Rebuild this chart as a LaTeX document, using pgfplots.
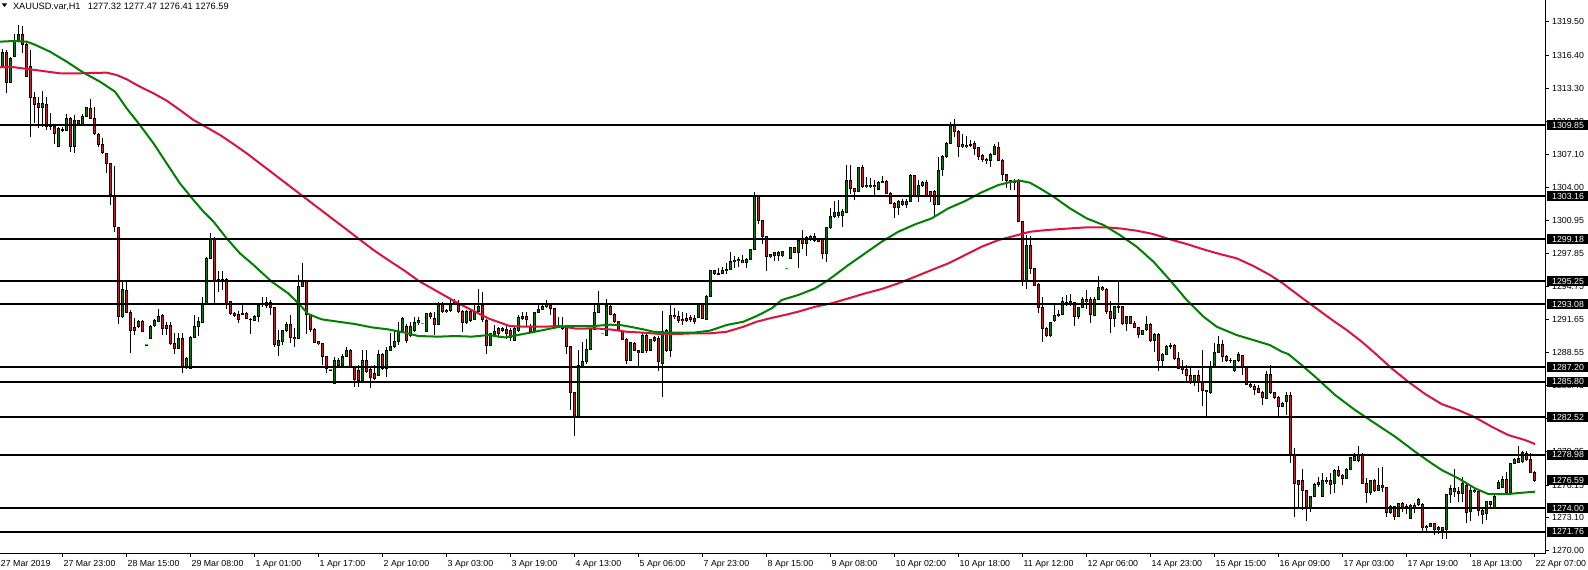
\documentclass[border=0pt]{standalone}
\usepackage{fontspec}
\setmainfont{Liberation Sans}
\usepackage{pgfplots}
\usepackage{pgfplotstable}
\pgfplotsset{compat=1.18}
\definecolor{bull}{RGB}{0,128,0}
\definecolor{bear}{RGB}{200,30,40}
\definecolor{magreen}{RGB}{0,128,0}
\definecolor{mared}{RGB}{220,20,60}
\definecolor{flatc}{RGB}{0,230,0}
\newcommand\lbl{\fontsize{4.4}{5}\selectfont}

\pgfplotstableread{
j O H L C
0 1315.31 1316.93 1315.16 1316.65
1 1316.65 1316.87 1312.82 1313.85
2 1313.81 1316.25 1313.75 1316.09
3 1316.25 1318.37 1316.19 1317.81
4 1317.81 1319.21 1317.75 1318.28
5 1318.28 1319.12 1316.62 1317.34
6 1317.34 1317.50 1314.32 1314.38
7 1315.31 1316.87 1308.70 1312.41
8 1312.41 1312.97 1310.07 1311.79
9 1311.88 1312.50 1309.54 1311.51
10 1311.51 1313.07 1309.63 1311.88
11 1311.82 1312.44 1309.38 1309.76
12 1309.76 1310.94 1309.38 1309.70
13 1309.76 1309.85 1308.08 1309.07
14 1307.89 1309.70 1307.83 1309.54
15 1309.45 1309.63 1309.23 1309.38
16 1309.38 1310.88 1309.32 1310.48
17 1310.48 1310.63 1307.36 1307.83
18 1307.83 1310.79 1307.20 1310.26
19 1310.26 1310.38 1309.85 1310.01
20 1309.92 1310.85 1309.85 1310.69
21 1310.63 1311.51 1310.57 1311.44
22 1311.44 1312.29 1310.41 1310.48
23 1310.48 1311.51 1308.92 1309.07
24 1308.98 1309.07 1307.76 1308.04
25 1308.08 1308.61 1307.11 1307.26
26 1307.20 1307.26 1305.33 1306.26
27 1306.26 1306.33 1302.36 1303.30
28 1303.21 1306.05 1299.87 1300.34
29 1300.27 1300.34 1291.23 1291.91
30 1291.91 1295.19 1291.76 1294.47
31 1294.41 1295.19 1292.22 1292.32
32 1292.32 1292.54 1288.48 1290.60
33 1290.91 1291.76 1290.20 1290.60
34 1290.98 1291.60 1290.91 1291.51
35 1291.51 1291.60 1290.45 1290.51
36 1289.26 1289.26 1289.26 1289.26
37 1289.89 1291.13 1289.82 1291.04
38 1291.04 1291.67 1290.98 1291.51
39 1291.45 1292.63 1291.38 1291.91
40 1291.98 1292.16 1290.20 1290.82
41 1291.13 1291.45 1290.20 1290.82
42 1291.13 1291.45 1289.26 1289.36
43 1289.36 1290.35 1288.42 1288.95
44 1288.95 1290.35 1288.86 1289.89
45 1289.89 1290.42 1286.67 1287.23
46 1287.23 1288.11 1286.98 1288.01
47 1287.08 1290.11 1286.98 1289.98
48 1289.98 1292.07 1289.89 1290.98
49 1290.98 1291.91 1290.14 1291.45
50 1291.38 1293.78 1291.29 1293.16
51 1293.16 1297.47 1293.10 1297.37
52 1297.37 1299.71 1297.28 1299.24
53 1299.24 1299.40 1293.16 1295.34
54 1295.40 1296.22 1294.25 1295.34
55 1295.40 1296.22 1294.41 1295.37
56 1295.40 1295.50 1292.69 1293.16
57 1293.32 1293.40 1292.07 1292.22
58 1292.22 1292.38 1291.91 1292.07
59 1292.16 1292.47 1291.29 1291.67
60 1292.22 1293.23 1292.07 1292.16
61 1292.22 1292.38 1291.67 1291.76
62 1291.70 1291.76 1290.26 1291.67
63 1291.60 1292.07 1291.54 1291.98
64 1291.98 1293.23 1291.45 1293.01
65 1293.16 1293.78 1292.85 1293.10
66 1293.00 1293.78 1292.69 1293.22
67 1293.22 1293.47 1292.07 1292.78
68 1292.78 1292.85 1289.10 1289.26
69 1289.20 1290.66 1288.23 1289.66
70 1289.57 1290.66 1289.26 1290.60
71 1290.66 1291.44 1290.51 1291.22
72 1291.22 1292.07 1289.48 1289.98
73 1289.98 1290.82 1289.10 1289.88
74 1289.88 1295.81 1289.79 1294.78
75 1294.78 1296.90 1294.72 1295.19
76 1295.19 1295.34 1290.35 1292.16
77 1292.16 1292.16 1290.51 1290.72
78 1290.72 1290.82 1289.42 1289.48
79 1289.57 1289.66 1289.26 1289.42
80 1289.42 1289.42 1287.39 1288.17
81 1288.17 1288.23 1286.67 1287.07
82 1286.92 1286.92 1286.92 1286.92
83 1285.67 1288.17 1285.67 1287.85
84 1287.39 1288.01 1287.23 1287.85
85 1287.39 1288.42 1287.23 1288.17
86 1288.17 1289.04 1288.10 1288.79
87 1288.79 1288.85 1287.17 1287.23
88 1287.23 1287.29 1285.36 1286.04
89 1286.90 1287.39 1285.36 1285.98
90 1285.98 1288.79 1285.83 1287.85
91 1287.85 1288.79 1286.67 1286.76
92 1286.92 1287.07 1285.20 1286.20
93 1286.61 1287.39 1285.98 1286.14
94 1286.45 1288.79 1286.36 1288.42
95 1288.42 1288.48 1286.92 1287.07
96 1287.07 1289.10 1286.29 1288.79
97 1288.79 1290.35 1288.73 1289.16
98 1289.10 1290.66 1288.95 1289.63
99 1289.57 1291.44 1289.26 1290.51
100 1290.51 1291.91 1290.35 1291.75
101 1291.00 1291.22 1289.42 1289.73
102 1290.19 1291.44 1289.98 1290.97
103 1290.66 1291.91 1290.51 1291.35
104 1291.35 1291.91 1291.13 1291.54
105 1291.29 1291.29 1291.29 1291.29
106 1290.57 1292.28 1290.51 1292.22
107 1292.22 1292.38 1291.75 1291.97
108 1291.75 1292.38 1290.19 1291.22
109 1291.22 1293.31 1291.13 1293.16
110 1293.16 1293.31 1292.22 1292.38
111 1292.38 1292.60 1292.28 1292.53
112 1292.47 1293.63 1292.38 1293.10
113 1293.31 1293.53 1293.00 1293.10
114 1293.10 1293.47 1292.28 1292.38
115 1292.38 1292.53 1290.51 1291.35
116 1291.35 1292.53 1291.22 1292.38
117 1292.38 1292.69 1291.44 1291.60
118 1291.66 1293.00 1291.60 1292.38
119 1292.38 1294.47 1292.28 1292.91
120 1293.00 1294.25 1291.44 1291.60
121 1291.60 1291.66 1288.42 1289.26
122 1289.26 1290.41 1289.20 1290.35
123 1290.19 1291.13 1290.10 1290.51
124 1290.82 1290.91 1289.88 1290.35
125 1290.66 1290.97 1290.51 1290.82
126 1290.72 1291.13 1289.79 1290.35
127 1290.60 1290.82 1289.66 1290.00
128 1289.72 1290.97 1289.66 1290.82
129 1290.66 1292.06 1290.50 1291.85
130 1291.97 1292.38 1291.60 1291.75
131 1291.91 1292.38 1290.97 1291.66
132 1290.97 1291.28 1290.41 1290.50
133 1290.50 1292.38 1290.41 1292.28
134 1292.28 1293.00 1292.22 1292.59
135 1292.59 1293.09 1292.53 1292.91
136 1292.84 1293.47 1292.75 1293.09
137 1293.00 1293.09 1292.06 1292.69
138 1292.69 1292.69 1291.03 1291.13
139 1291.13 1291.91 1290.91 1290.97
140 1291.03 1291.85 1290.66 1290.82
141 1290.97 1291.13 1288.41 1289.10
142 1289.10 1289.16 1283.17 1284.79
143 1284.79 1284.79 1280.74 1282.55
144 1282.55 1288.79 1282.49 1287.38
145 1287.38 1289.57 1287.29 1287.70
146 1287.70 1289.79 1287.54 1288.85
147 1288.85 1290.82 1288.79 1290.75
148 1290.75 1293.09 1290.66 1292.31
149 1292.31 1294.34 1292.28 1293.09
150 1290.35 1290.35 1290.35 1290.35
151 1290.19 1293.62 1290.10 1292.91
152 1292.91 1293.00 1292.06 1292.13
153 1292.13 1292.28 1291.35 1291.44
154 1291.44 1291.53 1290.60 1290.66
155 1290.50 1290.60 1289.72 1289.79
156 1289.79 1289.88 1287.48 1287.79
157 1287.85 1289.47 1287.79 1289.47
158 1289.41 1289.54 1288.73 1288.79
159 1288.79 1288.79 1287.07 1288.54
160 1288.54 1290.50 1288.48 1290.19
161 1290.19 1290.29 1288.54 1288.73
162 1288.79 1289.88 1288.73 1289.79
163 1289.97 1290.10 1289.57 1289.72
164 1289.88 1290.10 1286.85 1287.70
165 1287.54 1292.44 1284.36 1290.50
166 1290.60 1290.72 1288.63 1288.73
167 1288.73 1293.00 1288.16 1292.06
168 1292.06 1292.69 1291.66 1291.91
169 1291.91 1292.44 1291.35 1291.53
170 1291.66 1292.38 1291.13 1291.53
171 1291.75 1292.22 1291.44 1291.60
172 1291.85 1292.06 1291.44 1291.66
173 1291.75 1292.06 1291.22 1291.44
174 1291.85 1293.16 1291.75 1293.09
175 1293.09 1293.22 1291.66 1291.75
176 1291.66 1293.94 1291.60 1293.84
177 1293.84 1296.28 1293.78 1296.21
178 1296.21 1296.28 1295.81 1295.96
179 1295.96 1296.43 1295.81 1295.93
180 1295.96 1296.53 1295.90 1296.28
181 1296.21 1296.90 1295.96 1296.34
182 1296.34 1298.00 1296.28 1297.06
183 1297.06 1297.59 1296.43 1297.21
184 1297.15 1297.52 1296.53 1297.27
185 1297.21 1297.68 1296.90 1296.96
186 1296.96 1297.37 1296.43 1297.31
187 1297.27 1298.30 1297.21 1298.21
188 1298.21 1303.61 1298.15 1303.20
189 1303.20 1303.30 1300.64 1300.89
190 1300.89 1300.96 1298.77 1299.46
191 1299.46 1299.46 1296.21 1297.52
192 1297.74 1297.80 1297.43 1297.52
193 1297.62 1297.99 1297.12 1297.93
194 1297.93 1298.05 1297.12 1297.68
195 1297.62 1298.05 1297.52 1297.99
196 1296.43 1296.43 1296.43 1296.43
197 1297.37 1298.43 1297.31 1298.37
198 1298.37 1298.46 1297.84 1297.93
199 1297.93 1299.30 1296.49 1299.08
200 1299.18 1300.02 1298.24 1298.77
201 1298.77 1299.49 1297.62 1299.30
202 1299.18 1299.61 1298.99 1299.46
203 1299.46 1299.71 1298.87 1299.08
204 1299.18 1299.30 1298.93 1298.99
205 1299.24 1299.30 1297.31 1297.84
206 1297.84 1300.30 1297.00 1300.24
207 1300.24 1302.11 1300.11 1301.27
208 1301.27 1302.73 1301.17 1301.67
209 1301.42 1302.83 1301.11 1301.64
210 1301.42 1301.99 1300.33 1301.74
211 1301.67 1306.10 1301.58 1304.70
212 1304.70 1306.10 1303.45 1303.92
213 1303.92 1303.98 1302.83 1303.67
214 1303.67 1305.95 1303.67 1305.85
215 1305.85 1306.10 1303.98 1304.08
216 1304.08 1305.01 1303.92 1304.23
217 1304.08 1304.92 1303.98 1304.23
218 1304.23 1304.70 1303.30 1304.08
219 1303.86 1304.61 1303.76 1304.48
220 1304.48 1305.11 1304.39 1304.61
221 1304.61 1304.70 1303.36 1303.45
222 1303.45 1303.55 1302.42 1302.52
223 1302.52 1302.61 1301.11 1302.11
224 1302.11 1302.83 1301.42 1302.67
225 1302.67 1302.92 1302.30 1302.42
226 1302.42 1302.89 1302.05 1302.73
227 1302.67 1305.23 1302.61 1305.11
228 1305.11 1305.17 1303.23 1303.30
229 1303.30 1304.70 1302.61 1304.23
230 1304.23 1304.61 1304.08 1304.48
231 1304.48 1304.70 1303.23 1303.30
232 1303.67 1303.67 1302.67 1303.30
233 1303.67 1303.76 1301.27 1302.42
234 1302.42 1306.88 1302.36 1305.64
235 1305.64 1307.10 1305.11 1306.88
236 1306.88 1308.23 1306.73 1308.13
237 1308.13 1310.10 1308.04 1309.85
238 1309.85 1310.47 1308.76 1309.22
239 1309.29 1309.38 1306.88 1307.82
240 1307.82 1308.97 1307.73 1308.04
241 1307.98 1308.85 1307.73 1307.88
242 1307.98 1308.44 1307.82 1308.04
243 1308.13 1308.35 1307.04 1307.66
244 1307.73 1307.73 1306.57 1306.88
245 1306.98 1307.10 1306.35 1306.67
246 1306.67 1306.79 1306.17 1306.57
247 1306.57 1307.20 1305.95 1307.10
248 1307.10 1308.04 1307.04 1307.82
249 1307.73 1308.23 1306.48 1306.57
250 1306.57 1306.67 1304.61 1305.23
251 1305.23 1305.32 1303.92 1304.70
252 1304.70 1304.70 1303.76 1304.54
253 1304.61 1304.79 1303.76 1304.48
254 1304.70 1304.79 1300.74 1300.80
255 1300.80 1300.89 1294.78 1295.34
256 1295.34 1299.55 1294.56 1298.61
257 1298.61 1299.46 1295.96 1296.43
258 1296.43 1296.52 1294.78 1294.87
259 1294.96 1295.09 1292.28 1292.78
260 1292.78 1293.78 1289.57 1290.81
261 1290.81 1290.97 1290.03 1290.13
262 1290.13 1291.44 1290.03 1291.34
263 1291.53 1293.00 1291.44 1292.06
264 1292.06 1292.53 1291.91 1292.16
265 1292.16 1293.78 1292.06 1293.31
266 1293.15 1293.93 1292.90 1293.22
267 1293.15 1294.03 1292.90 1293.31
268 1293.22 1293.31 1291.03 1291.97
269 1291.91 1292.84 1291.75 1292.78
270 1292.78 1293.72 1292.69 1293.53
271 1293.53 1294.40 1292.69 1293.31
272 1293.53 1293.72 1291.34 1292.16
273 1292.06 1293.78 1291.97 1293.53
274 1293.53 1295.71 1293.47 1294.65
275 1294.65 1294.78 1294.34 1294.46
276 1294.46 1294.56 1292.16 1292.37
277 1292.37 1293.40 1290.41 1291.75
278 1291.75 1292.90 1290.91 1292.84
279 1292.84 1295.18 1292.22 1292.81
280 1292.84 1292.90 1291.13 1291.28
281 1291.28 1291.97 1290.60 1291.91
282 1291.97 1291.97 1291.22 1291.28
283 1291.28 1291.53 1290.81 1290.91
284 1290.91 1290.97 1289.88 1290.28
285 1290.28 1290.66 1290.19 1290.60
286 1290.72 1291.97 1290.60 1291.22
287 1291.22 1291.28 1289.57 1289.66
288 1289.72 1290.35 1288.63 1290.28
289 1290.28 1290.35 1286.85 1287.85
290 1287.85 1288.54 1287.29 1288.41
291 1288.41 1289.25 1288.32 1289.16
292 1289.25 1289.47 1288.85 1289.16
293 1289.25 1289.35 1287.91 1288.01
294 1288.01 1288.63 1286.98 1287.07
295 1287.16 1287.85 1286.54 1286.98
296 1286.98 1287.38 1285.82 1286.45
297 1286.45 1287.16 1285.60 1285.73
298 1285.73 1286.45 1285.42 1286.45
299 1286.45 1286.91 1284.89 1285.73
300 1285.73 1288.79 1283.54 1284.98
301 1284.89 1285.10 1282.55 1285.04
302 1284.79 1287.76 1284.67 1287.16
303 1287.16 1289.41 1287.07 1288.54
304 1288.54 1290.10 1288.47 1289.35
305 1289.35 1289.72 1287.69 1288.16
306 1288.16 1288.32 1287.69 1287.79
307 1287.85 1288.01 1287.54 1287.79
308 1286.85 1287.91 1286.76 1287.85
309 1287.79 1288.63 1287.69 1288.32
310 1288.32 1288.32 1286.45 1287.16
311 1287.16 1287.23 1285.51 1285.60
312 1285.60 1285.73 1285.29 1285.35
313 1285.35 1285.60 1284.57 1285.10
314 1285.20 1285.51 1284.73 1284.79
315 1284.79 1284.98 1283.64 1284.36
316 1284.26 1286.85 1284.17 1286.54
317 1286.54 1287.38 1284.67 1284.79
318 1284.79 1284.89 1284.26 1284.36
319 1284.36 1284.48 1282.39 1283.48
320 1283.55 1283.95 1283.42 1283.80
321 1283.95 1284.89 1282.70 1284.58
322 1284.58 1284.89 1278.24 1279.05
323 1279.05 1279.58 1273.19 1276.25
324 1276.62 1276.68 1273.97 1276.25
325 1276.62 1277.62 1273.81 1275.68
326 1275.68 1275.68 1272.81 1274.06
327 1274.06 1275.12 1273.66 1275.06
328 1275.06 1276.37 1275.00 1276.25
329 1276.25 1276.93 1276.00 1276.37
330 1275.06 1277.31 1275.00 1276.62
331 1276.46 1276.93 1276.25 1276.62
332 1276.62 1277.31 1275.31 1276.25
333 1276.31 1277.62 1275.37 1277.56
334 1277.56 1277.93 1276.93 1277.09
335 1277.09 1277.18 1276.15 1276.78
336 1276.78 1277.71 1276.68 1277.62
337 1277.62 1278.80 1277.56 1278.74
338 1278.80 1279.18 1278.43 1278.49
339 1278.43 1279.80 1278.34 1278.96
340 1278.87 1279.12 1276.25 1276.31
341 1276.31 1276.78 1274.50 1275.43
342 1275.43 1276.62 1275.22 1276.56
343 1276.56 1276.68 1275.53 1275.62
344 1275.68 1277.71 1275.62 1276.15
345 1276.15 1277.87 1275.53 1275.93
346 1275.93 1276.00 1273.13 1273.56
347 1273.56 1274.28 1273.44 1274.19
348 1274.19 1274.19 1272.88 1273.25
349 1273.25 1274.50 1273.19 1274.44
350 1274.44 1274.59 1273.66 1274.06
351 1274.19 1274.37 1273.44 1274.06
352 1273.03 1274.37 1272.97 1274.28
353 1274.28 1274.50 1273.56 1274.12
354 1274.29 1274.91 1274.20 1274.82
355 1274.38 1274.44 1271.80 1272.20
356 1272.31 1272.41 1271.63 1272.19
357 1272.25 1272.62 1272.19 1272.56
358 1272.56 1272.62 1271.47 1272.00
359 1272.00 1272.31 1271.57 1272.19
360 1272.19 1272.25 1271.08 1271.94
361 1271.95 1275.32 1271.08 1275.23
362 1275.23 1276.16 1274.45 1275.85
363 1275.85 1277.63 1275.07 1275.54
364 1275.60 1276.00 1274.60 1275.38
365 1275.38 1276.94 1274.60 1276.26
366 1276.16 1276.47 1272.64 1273.57
367 1273.67 1276.00 1272.82 1275.69
368 1275.69 1275.75 1275.38 1275.54
369 1275.54 1275.69 1273.26 1273.82
370 1273.82 1273.88 1272.51 1273.45
371 1273.51 1274.70 1272.89 1274.60
372 1274.60 1274.70 1273.98 1274.29
373 1273.98 1275.23 1273.88 1275.13
374 1275.85 1276.63 1275.76 1276.41
375 1275.94 1277.00 1275.85 1276.69
376 1276.69 1277.41 1275.38 1275.44
377 1275.44 1278.25 1275.32 1278.19
378 1278.19 1278.66 1278.10 1278.56
379 1278.66 1279.81 1278.19 1278.25
380 1278.35 1279.38 1278.25 1279.19
381 1279.12 1279.38 1278.44 1278.56
382 1278.56 1279.12 1277.25 1277.32
383 1277.32 1277.47 1276.41 1276.59
}\candles

\newcommand\pricebox[2]{%
  \fill[black] ([xshift=0.85pt,yshift=-2.5pt]#1) rectangle ([xshift=21.5pt,yshift=2.5pt]#1);
  \node[anchor=west, inner sep=0pt, text=white, font=\lbl] at ([xshift=3.35pt]#1) {#2};}

\pgfplotsset{
  candlebar/.style 2 args={draw=none, mark=none, forget plot,
    error bars/.cd, y dir=both, y explicit, error mark=none,
    error bar style={draw=#1, line width=#2, line cap=butt}},
}

\begin{document}
\begin{tikzpicture}
\begin{axis}[name=main, at={(0,0)}, anchor=south west, scale only axis,
  width=772.5pt, height=276.5pt,
  xmin=-0.667, xmax=385.58, ymin=1269.79, ymax=1321.55,
  axis line style={draw=none},
  tick align=outside, major tick length=2pt, tick style={black, line width=0.5pt},
  xtick pos=left, ytick pos=right, xticklabel pos=left, yticklabel pos=right,
  xtick={-0.667,15,31,...,383},
  xticklabels={27 Mar 2019,27 Mar 23:00,28 Mar 15:00,29 Mar 08:00,1 Apr 01:00,1 Apr 17:00,2 Apr 10:00,3 Apr 03:00,3 Apr 19:00,4 Apr 13:00,5 Apr 06:00,7 Apr 23:00,8 Apr 15:00,9 Apr 08:00,10 Apr 02:00,10 Apr 18:00,11 Apr 12:00,12 Apr 06:00,14 Apr 23:00,15 Apr 15:00,16 Apr 09:00,17 Apr 03:00,17 Apr 19:00,18 Apr 13:00,22 Apr 07:00},
  ytick={1270.00,1273.10,1276.15,1279.25,1282.35,1285.45,1288.55,1291.65,1294.75,1297.85,1300.95,1304.00,1307.10,1310.20,1313.30,1316.40,1319.50},
  yticklabels={1270.00,1273.10,1276.15,1279.25,1282.35,1285.45,1288.55,1291.65,1294.75,1297.85,1300.95,1304.00,1307.10,1310.20,1313.30,1316.40,1319.50},
  xticklabel style={font=\lbl, anchor=north west, inner sep=0pt, xshift=0.3pt},
  yticklabel style={font=\lbl, anchor=west, inner sep=0pt},
  xticklabel shift=1.5pt, yticklabel shift=1.35pt,
]
% wicks
\addplot[candlebar={black}{0.5pt}]
  table[x=j, y expr={(\thisrow{H}+\thisrow{L})/2}, y error expr={(\thisrow{H}-\thisrow{L})/2}] {\candles};
% body outline
\addplot[candlebar={black}{1.5pt}]
  table[x=j, y expr={(\thisrow{O}+\thisrow{C})/2}, y error expr={abs(\thisrow{C}-\thisrow{O})/2+0.047}] {\candles};
% bull fill
\addplot[restrict expr to domain={\thisrow{C}-\thisrow{O}}{0:1000}, candlebar={bull}{0.6pt}]
  table[x=j, y expr={(\thisrow{O}+\thisrow{C})/2}, y error expr={max(abs(\thisrow{C}-\thisrow{O})/2-0.047,0)}] {\candles};
% bear fill
\addplot[restrict expr to domain={\thisrow{C}-\thisrow{O}}{-1000:0}, candlebar={bear}{0.6pt}]
  table[x=j, y expr={(\thisrow{O}+\thisrow{C})/2}, y error expr={max(abs(\thisrow{C}-\thisrow{O})/2-0.047,0)}] {\candles};
% flat bars (open = high = low = close)
\addplot[restrict expr to domain={\thisrow{H}-\thisrow{L}}{0:0.01}, draw=none, forget plot, mark=-, mark size=0.8pt, mark options={draw=flatc, line width=0.5pt}]
  table[x=j, y=C] {\candles};

% moving averages
\addplot[mared, line width=1pt, line join=round, mark=none] coordinates {
(-0.67,1315.25) (1.8,1315.31) (6.8,1315.06) (9.3,1314.94) (14.3,1314.69) (19.3,1314.69) (26,1314.75) (28.5,1314.53) (31,1314.13) (34.3,1313.44) (37.7,1312.82) (41,1312.13) (44.3,1311.26) (47.7,1310.32) (51,1309.63) (54.3,1308.92) (57.7,1308.07) (61,1307.20) (64.3,1306.26) (70,1304.63) (75,1303.20) (80,1301.77) (85,1300.35) (90,1298.92) (92.7,1298.15) (96.4,1297.21) (100.6,1296.18) (103.9,1295.28) (108.9,1294.22) (113.9,1293.16) (121.4,1291.75) (126.8,1291.03) (131,1290.97) (135.2,1290.97) (139.3,1291.03) (143.5,1290.78) (147.7,1290.82) (151.8,1290.72) (156,1290.50) (160.2,1290.41) (164.3,1290.29) (168.5,1290.29) (172.7,1290.35) (176.8,1290.35) (181,1290.50) (185.2,1290.97) (188.5,1291.44) (192.3,1291.80) (194.75,1292.00) (198.9,1292.38) (203.1,1292.84) (207.25,1293.16) (211.4,1293.62) (215.6,1294.09) (219.75,1294.50) (223.9,1295.03) (228.1,1295.65) (232.25,1296.28) (236.4,1296.90) (240.6,1297.68) (244.75,1298.46) (248.9,1299.08) (252.25,1299.40) (256.8,1299.86) (261,1300.02) (266.8,1300.17) (271,1300.27) (276,1300.27) (279.3,1300.17) (283.5,1299.96) (287.7,1299.64) (291.8,1299.15) (296,1298.71) (300.2,1298.21) (304.3,1297.77) (308.5,1297.37) (312.7,1296.65) (316.8,1295.81) (319.8,1295.09) (324,1293.90) (328,1292.80) (332,1291.70) (336,1290.66) (339.75,1289.57) (343.1,1288.48) (347.25,1287.07) (351.4,1285.82) (355.6,1284.67) (359.75,1283.73) (363.9,1283.17) (368.1,1282.49) (372.25,1281.61) (376.4,1280.83) (380.6,1280.36) (383.1,1279.99)
};
\addplot[magreen, line width=1pt, line join=round, mark=none] coordinates {
(-0.67,1317.65) (2.67,1317.71) (6,1317.65) (7.67,1317.43) (11.8,1316.72) (16,1315.78) (20.2,1314.75) (24.3,1313.91) (28.1,1312.97) (31,1311.41) (34.3,1309.85) (37.7,1308.14) (41,1306.26) (44.3,1304.39) (47.7,1302.83) (50.2,1301.74) (52.7,1300.81) (56,1299.24) (59.3,1297.84) (62.7,1296.75) (67.25,1295.19) (71.4,1294.09) (73.9,1293.16) (76.4,1292.16) (79.75,1291.66) (83.9,1291.44) (88.1,1291.22) (92.25,1290.91) (96.4,1290.72) (100.6,1290.41) (103.9,1290.10) (108.9,1290.04) (113.1,1290.10) (117.25,1290.04) (121.4,1290.19) (125.6,1289.97) (131,1290.35) (135.2,1290.66) (139.3,1290.97) (141,1291.03) (147.7,1291.03) (151.8,1291.16) (154.3,1291.13) (156,1291.03) (160.2,1290.72) (162.7,1290.50) (166,1290.41) (172.7,1290.41) (176.8,1290.60) (181,1291.13) (185.2,1291.44) (188.5,1291.97) (192.3,1292.70) (194.75,1293.47) (198.9,1293.94) (203.1,1294.56) (206.4,1295.34) (211.4,1296.74) (215.6,1297.84) (219.75,1298.93) (223.9,1299.86) (228.1,1300.55) (232.25,1301.11) (236.4,1302.05) (240.6,1302.73) (244.75,1303.55) (248.9,1304.23) (252.25,1304.54) (254.3,1304.64) (256.8,1304.45) (259.3,1303.92) (262.7,1303.14) (266.8,1302.05) (271,1301.11) (275.2,1300.49) (279.3,1299.55) (283.5,1298.46) (287.7,1297.05) (291.8,1295.34) (296,1293.47) (300.2,1291.91) (303.5,1290.97) (308.5,1290.19) (312.7,1289.72) (316.8,1289.25) (319.8,1288.63) (321.4,1288.41) (324.75,1287.38) (328.1,1286.29) (333.1,1284.58) (338.1,1283.17) (343.1,1281.92) (348.1,1280.68) (353.1,1279.27) (357.25,1278.18) (359.75,1277.56) (363.9,1276.78) (368.1,1275.84) (371.4,1275.31) (376.4,1275.31) (379.75,1275.43) (383.1,1275.53)
};

% horizontal levels
\addplot[black, line width=1pt, forget plot] coordinates {(-0.667,1309.85) (385.58,1309.85)};
\addplot[black, line width=1pt, forget plot] coordinates {(-0.667,1303.16) (385.58,1303.16)};
\addplot[black, line width=1pt, forget plot] coordinates {(-0.667,1299.18) (385.58,1299.18)};
\addplot[black, line width=1pt, forget plot] coordinates {(-0.667,1295.25) (385.58,1295.25)};
\addplot[black, line width=1pt, forget plot] coordinates {(-0.667,1293.08) (385.58,1293.08)};
\addplot[black, line width=1pt, forget plot] coordinates {(-0.667,1287.20) (385.58,1287.20)};
\addplot[black, line width=1pt, forget plot] coordinates {(-0.667,1285.80) (385.58,1285.80)};
\addplot[black, line width=1pt, forget plot] coordinates {(-0.667,1282.52) (385.58,1282.52)};
\addplot[black, line width=1pt, forget plot] coordinates {(-0.667,1278.98) (385.58,1278.98)};
\addplot[black, line width=1pt, forget plot] coordinates {(-0.667,1274.00) (385.58,1274.00)};
\addplot[black, line width=1pt, forget plot] coordinates {(-0.667,1271.76) (385.58,1271.76)};

\coordinate (p1) at (axis cs:385.58,1309.85);
\coordinate (p2) at (axis cs:385.58,1303.16);
\coordinate (p3) at (axis cs:385.58,1299.18);
\coordinate (p4) at (axis cs:385.58,1295.25);
\coordinate (p5) at (axis cs:385.58,1293.08);
\coordinate (p6) at (axis cs:385.58,1287.20);
\coordinate (p7) at (axis cs:385.58,1285.80);
\coordinate (p8) at (axis cs:385.58,1282.52);
\coordinate (p9) at (axis cs:385.58,1278.98);
\coordinate (p10) at (axis cs:385.58,1276.59);
\coordinate (p11) at (axis cs:385.58,1274.00);
\coordinate (p12) at (axis cs:385.58,1271.76);
\end{axis}

\draw[line width=0.5pt] (main.south west) -- (main.south east) -- (main.north east);

\pricebox{p1}{1309.85}
\pricebox{p2}{1303.16}
\pricebox{p3}{1299.18}
\pricebox{p4}{1295.25}
\pricebox{p5}{1293.08}
\pricebox{p6}{1287.20}
\pricebox{p7}{1285.80}
\pricebox{p8}{1282.52}
\pricebox{p9}{1278.98}
\pricebox{p10}{1276.59}
\pricebox{p11}{1274.00}
\pricebox{p12}{1271.76}

% title
\fill[black] (0.85pt,274.85pt) -- (3.65pt,274.85pt) -- (2.25pt,273.0pt) -- cycle;
\node[anchor=base west, inner sep=0pt, font=\fontsize{4.6}{5}\selectfont] at (6.35pt,271.75pt) {XAUUSD.var,H1\hspace{3.7pt}1277.32 1277.47 1276.41 1276.59};

\pgfresetboundingbox
\path (0,-8pt) rectangle (794pt,276.5pt);
\end{tikzpicture}
\end{document}
